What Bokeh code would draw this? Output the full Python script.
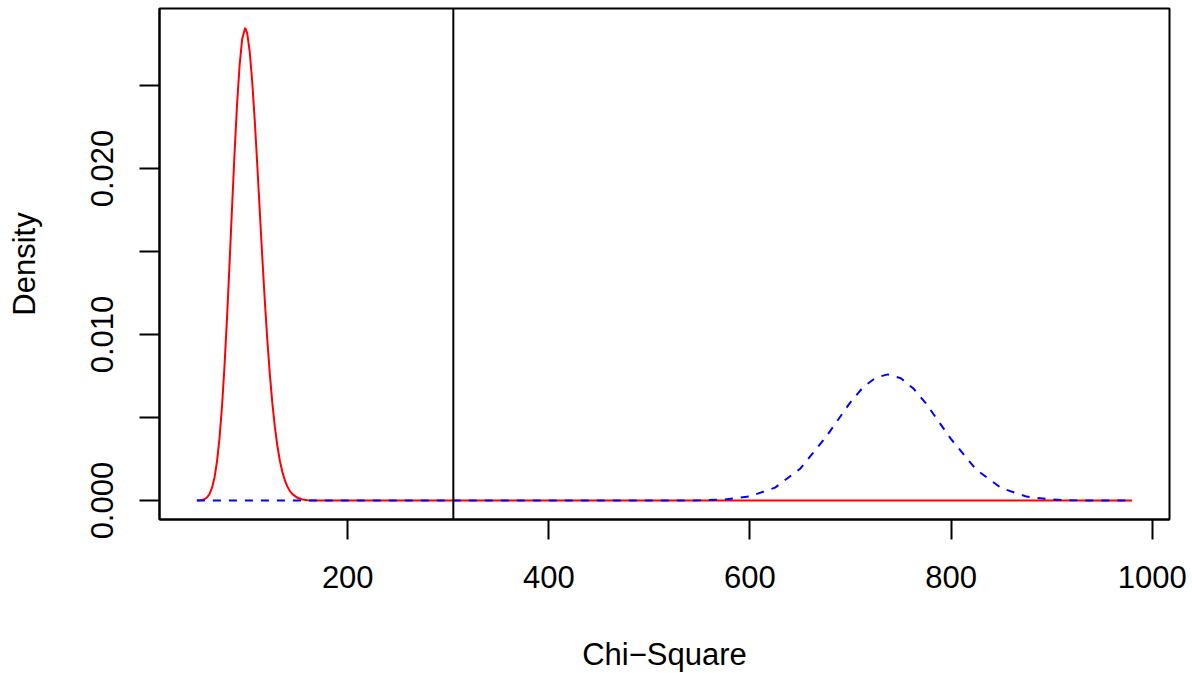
from bokeh.plotting import figure
from bokeh.models import Range1d, FixedTicker, Span
from bokeh.embed import file_html
from bokeh.resources import INLINE

# Central chi-square density (red, solid)
red_x = [50, 55, 57.5, 60, 62.5, 65, 67.5, 70, 72.5, 75, 77.5, 80, 82.5, 85, 87.5,
         90, 92.5, 95, 98, 100, 102.5, 105, 107.5, 110, 112.5, 115, 117.5, 120,
         122.5, 125, 127.5, 130, 132.5, 135, 137.5, 140, 142.5, 145, 150, 155, 160,
         170, 200, 400, 600, 800, 980]
red_y = [0.0000036, 0.000032, 0.00008, 0.000184, 0.00039, 0.000763, 0.00139,
         0.002365, 0.00378, 0.005709, 0.00816, 0.01107, 0.01432, 0.01773, 0.02100,
         0.02395, 0.02625, 0.02779, 0.02848, 0.02816, 0.02705, 0.02525, 0.02292,
         0.02026, 0.01746, 0.01469, 0.01207, 0.00970, 0.00763, 0.00588, 0.00445,
         0.00330, 0.00240, 0.00172, 0.00121, 0.00084, 0.00057, 0.000385, 0.000166,
         0.000068, 0.000026, 0.000004, 0.0, 0.0, 0.0, 0.0, 0.0]

# Non-central chi-square density (blue, dashed)
blue_x = [50, 300, 500, 525, 550, 575, 600, 625, 650, 675, 700, 712.5, 725, 737,
          750, 762.5, 775, 800, 825, 850, 875, 900, 925, 950, 980]
blue_y = [0.0, 0.0, 0.0, 0.000002, 0.000013, 0.000065, 0.000252, 0.00078,
          0.001925, 0.003785, 0.00593, 0.00683, 0.0074, 0.0076, 0.00737, 0.00675,
          0.00585, 0.0037, 0.001865, 0.00075, 0.00024, 0.000061, 0.000012,
          0.000002, 0.0]

cutoff = 305
x_ticks = [200, 400, 600, 800, 1000]
y_ticks = [0.0, 0.005, 0.01, 0.015, 0.02, 0.025]
y_labels = {0.0: "0.000", 0.005: "", 0.01: "0.010", 0.015: "", 0.02: "0.020", 0.025: ""}

FONT = "Liberation Sans"
FS = "31px"

p = figure(width=1192, height=673, output_backend="svg", toolbar_location=None,
           x_range=Range1d(12.8, 1017.2), y_range=Range1d(-0.00114, 0.02964),
           min_border_left=159, min_border_right=23, min_border_top=8,
           min_border_bottom=154)
p.frame_width = 1010
p.frame_height = 511

p.grid.visible = False
p.outline_line_color = "black"
p.outline_line_width = 2
p.background_fill_color = "white"
p.border_fill_color = "white"

p.line(red_x, red_y, line_color="#FF0000", line_width=2)
p.line(blue_x, blue_y, line_color="#0000FF", line_width=2, line_dash="8 8")
p.add_layout(Span(location=cutoff, dimension="height", line_color="black", line_width=2))

xa = p.xaxis[0]
xa.ticker = FixedTicker(ticks=x_ticks)
xa.axis_label = "Chi\u2212Square"
ya = p.yaxis[0]
ya.ticker = FixedTicker(ticks=y_ticks)
ya.major_label_overrides = y_labels
ya.axis_label = "Density"
ya.major_label_orientation = "vertical"

for ax in (xa, ya):
    ax.axis_line_color = "black"
    ax.axis_line_width = 2
    ax.major_tick_line_color = "black"
    ax.major_tick_line_width = 2
    ax.major_tick_out = 20
    ax.major_tick_in = 0
    ax.minor_tick_line_color = None
    ax.major_label_text_font = FONT
    ax.major_label_text_font_size = FS
    ax.major_label_text_color = "black"
    ax.axis_label_text_font = FONT
    ax.axis_label_text_font_size = FS
    ax.axis_label_text_font_style = "normal"
    ax.axis_label_text_color = "black"

xa.major_label_standoff = 26
xa.axis_label_standoff = 46
ya.major_label_standoff = 26
ya.axis_label_standoff = 47

open("out.html", "w").write(file_html(p, INLINE))
